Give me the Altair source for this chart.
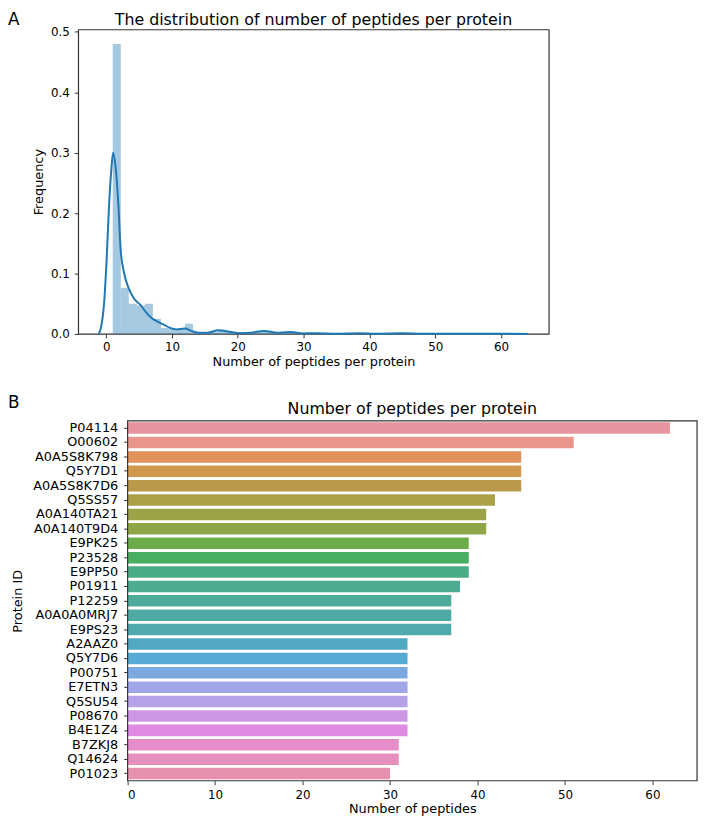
import altair as alt
import pandas as pd

FONT = "DejaVu Sans"

# ---------------- Panel A data ----------------
hist_min = 1
hist_max = 62
hist_heights = [0.480, 0.076, 0.050, 0.047, 0.050, 0.025, 0.010, 0.008, 0.008, 0.017,
                0.002, 0.002, 0.003, 0.007, 0.004, 0.002, 0.003, 0.003, 0.005, 0.004,
                0.002, 0.004, 0.003, 0.001, 0.002, 0.0015, 0.001, 0.0008, 0.0006, 0.0004,
                0.0006, 0.0002, 0.0006, 0.0004, 0.0002, 0.0, 0.0, 0.0006, 0.0, 0.0,
                0.0, 0.0002, 0.0, 0.0, 0.0, 0.0, 0.0, 0.0, 0.0, 0.0002]

kde_x = [-1.15, -0.8, -0.3, 0.05, 0.45, 0.8, 1.05, 1.45, 1.85, 2.2, 2.7, 3.45, 4.2, 5.2,
         6.2, 6.95, 7.7, 8.7, 9.7, 10.7, 11.95, 12.95, 13.95, 15.45, 17.0, 18.5, 20.4,
         22.0, 24.0, 26.0, 28.0, 30.0, 32.0, 35.0, 38.4, 41.0, 45.0, 48.0, 52.0, 56.0,
         60.0, 64.1]
kde_y = [0.0, 0.010, 0.053, 0.118, 0.215, 0.274, 0.300, 0.274, 0.215, 0.140, 0.102,
         0.075, 0.059, 0.048, 0.034, 0.026, 0.021, 0.0156, 0.010, 0.0075, 0.009, 0.005,
         0.002, 0.002, 0.006, 0.004, 0.0012, 0.002, 0.005, 0.002, 0.003, 0.0008, 0.0012,
         0.0004, 0.0012, 0.0004, 0.0010, 0.0002, 0.0004, 0.0001, 0.0002, 0.0]

a_xticks = [0, 10, 20, 30, 40, 50, 60]
a_yticks = [0.0, 0.1, 0.2, 0.3, 0.4, 0.5]

# ---------------- Panel B data ----------------
proteins = ["P04114", "O00602", "A0A5S8K798", "Q5Y7D1", "A0A5S8K7D6", "Q5SS57",
            "A0A140TA21", "A0A140T9D4", "E9PK25", "P23528", "E9PP50", "P01911",
            "P12259", "A0A0A0MRJ7", "E9PS23", "A2AAZ0", "Q5Y7D6", "P00751", "E7ETN3",
            "Q5SU54", "P08670", "B4E1Z4", "B7ZKJ8", "Q14624", "P01023"]
peptide_counts = [62, 51, 45, 45, 45, 42, 41, 41, 39, 39, 39, 38, 37, 37, 37,
                  32, 32, 32, 32, 32, 32, 32, 31, 31, 30]
bar_colors = ["#e8949e", "#e8968c", "#e1915a", "#d0984c", "#ba9a4a", "#aaa048",
              "#9ca248", "#8fa648", "#6cac4a", "#4aae60", "#4aac84", "#4cab91",
              "#4eaa9b", "#4faaa3", "#50a9af", "#52a8c0", "#56aad5", "#7ca8e0",
              "#a1a6e8", "#b7a1e8", "#cd97e5", "#e08ae4", "#e58dc8", "#e690be",
              "#e692ac"]
b_xticks = [0, 10, 20, 30, 40, 50, 60]

# ---------------- Panel A ----------------
nb = len(hist_heights)
bw = (hist_max - hist_min) / nb
hist_df = pd.DataFrame({
    "x0": [hist_min + i * bw for i in range(nb)],
    "x1": [hist_min + (i + 1) * bw for i in range(nb)],
    "h": hist_heights,
})
kde_df = pd.DataFrame({"kx": kde_x, "ky": kde_y})

A_W, A_H = 476, 308
xs_a = alt.Scale(domain=[-4.25, 67.25], nice=False, zero=False)
ys_a = alt.Scale(domain=[0, 0.504], nice=False)

hist = alt.Chart(hist_df).mark_rect(color="#1f77b4", opacity=0.4).encode(
    x=alt.X("x0:Q", scale=xs_a,
            axis=alt.Axis(values=a_xticks, title="Number of peptides per protein",
                          titlePadding=3, labelPadding=4)),
    x2="x1:Q",
    y=alt.Y("h:Q", scale=ys_a,
            axis=alt.Axis(values=a_yticks, format=".1f", title="Frequency",
                          titlePadding=5, labelPadding=5)),
    y2=alt.datum(0),
)
kde = alt.Chart(kde_df).mark_line(color="#1f77b4", strokeWidth=2,
                                  interpolate="monotone").encode(
    x=alt.X("kx:Q", scale=xs_a),
    y=alt.Y("ky:Q", scale=ys_a),
)
a_title = alt.Chart(pd.DataFrame({"t": ["The distribution of number of peptides per protein"]})).mark_text(
    align="center", baseline="alphabetic", fontSize=16, font=FONT, color="black"
).encode(x=alt.value(A_W / 2), y=alt.value(-4), text="t:N")
a_label = alt.Chart(pd.DataFrame({"t": ["A"]})).mark_text(
    align="left", baseline="alphabetic", fontSize=17, font=FONT, color="black"
).encode(x=alt.value(-71), y=alt.value(-4), text="t:N")

panel_a = alt.layer(hist, kde, a_title, a_label).properties(
    width=A_W, height=A_H,
    view=alt.ViewBackground(stroke="#333333", strokeWidth=1.2),
)

# ---------------- Panel B ----------------
B_OFF = 50           # panel B's plot area starts 50px right of panel A's
B_PW, B_H = 576, 364
B_W = B_OFF + B_PW
b_df = pd.DataFrame({"protein": proteins, "n": peptide_counts})
xs_b = alt.Scale(domain=[0, 65.1], nice=False, range=[B_OFF, B_W])

bars_b = alt.Chart(b_df).mark_bar().encode(
    y=alt.Y("protein:N", sort=proteins,
            scale=alt.Scale(paddingInner=0.2, paddingOuter=0.1),
            axis=alt.Axis(title="Protein ID", labelFontSize=13, titlePadding=8,
                          labelPadding=6, offset=-B_OFF)),
    x=alt.X("n:Q", scale=xs_b,
            axis=alt.Axis(values=b_xticks, title="Number of peptides",
                          titlePadding=2, labelPadding=5)),
    color=alt.Color("protein:N", scale=alt.Scale(domain=proteins, range=bar_colors),
                    legend=None),
)
b_frame = alt.Chart(pd.DataFrame({"lo": [0], "hi": [65.1]})).mark_rect(
    fillOpacity=0, stroke="#333333", strokeWidth=1.2
).encode(
    x=alt.X("lo:Q", scale=xs_b), x2="hi:Q",
    y=alt.value(0), y2=alt.value(B_H),
)
b_title = alt.Chart(pd.DataFrame({"t": ["Number of peptides per protein"]})).mark_text(
    align="center", baseline="alphabetic", fontSize=16, font=FONT, color="black"
).encode(x=alt.value(B_OFF + B_PW / 2), y=alt.value(-7), text="t:N")
b_label = alt.Chart(pd.DataFrame({"t": ["B"]})).mark_text(
    align="left", baseline="alphabetic", fontSize=17, font=FONT, color="black"
).encode(x=alt.value(-71), y=alt.value(-13), text="t:N")

panel_b = alt.layer(bars_b, b_frame, b_title, b_label).properties(
    width=B_W, height=B_H,
    view=alt.ViewBackground(stroke="transparent"),
)

chart = alt.vconcat(panel_a, panel_b, spacing=24).properties(
    autosize=alt.AutoSizeParams(type="none"),
    padding={"left": 71, "top": 17, "right": 629, "bottom": 793},
).configure_view(
    stroke="#333333", strokeWidth=1.2
).configure_axis(
    domain=False, grid=False, tickColor="#333333", tickSize=4, tickWidth=1,
    labelColor="black", titleColor="black", labelFont=FONT, titleFont=FONT,
    labelFontSize=12, titleFontSize=13, titleFontWeight="normal",
)

chart.save("out.html", embed_options={"renderer": "svg", "actions": False})
